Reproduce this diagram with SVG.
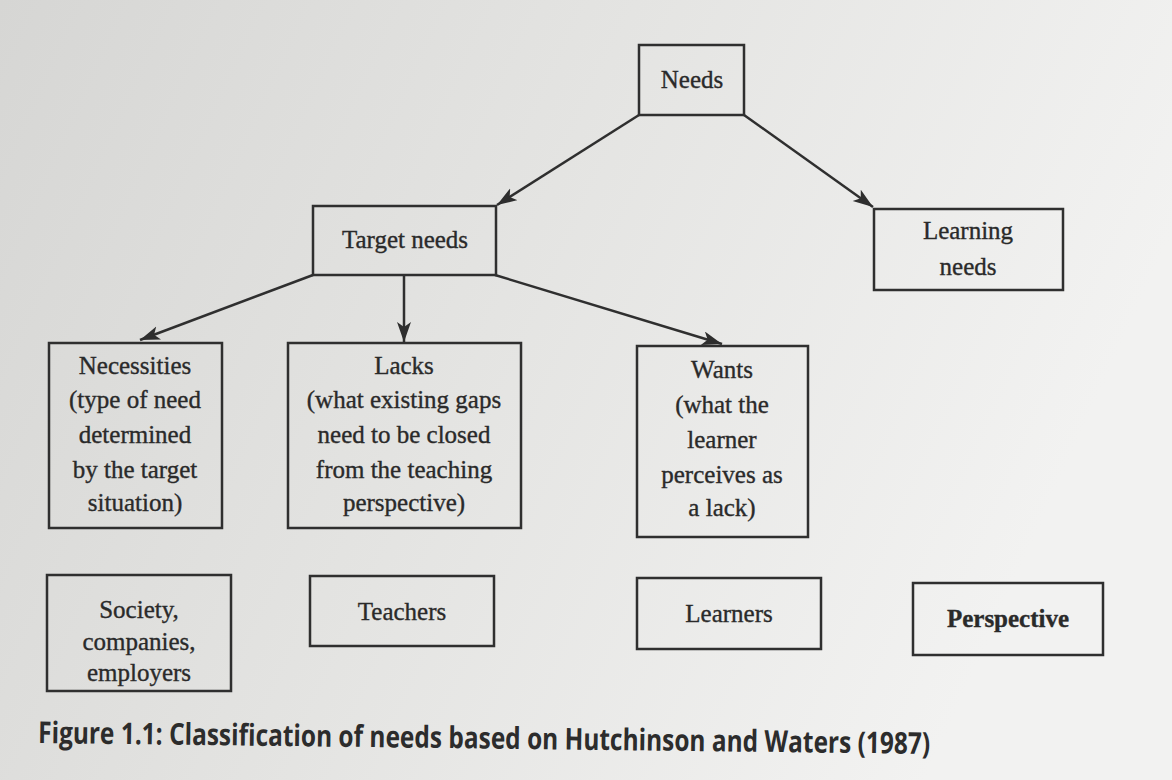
<svg xmlns="http://www.w3.org/2000/svg" width="1172" height="780" viewBox="0 0 1172 780">
  <defs>
    <linearGradient id="paper" x1="0" y1="0" x2="1" y2="0.3">
      <stop offset="0" stop-color="#d6d6d4"/>
      <stop offset="0.5" stop-color="#e4e4e2"/>
      <stop offset="1" stop-color="#f2f2f1"/>
    </linearGradient>
    <marker id="arrow" markerUnits="userSpaceOnUse" markerWidth="22" markerHeight="16" refX="20" refY="7" orient="auto">
      <path d="M0,0 L20,7 L0,14 L5,7 Z" fill="#2e2e2e"/>
    </marker>
  </defs>
  <style>
    .box { fill: none; stroke: #2f2f2f; stroke-width: 2.5; }
    .lbl { font-family: "Liberation Serif", "Times New Roman", serif; font-size: 25px; fill: #2a2a2a; stroke: #2a2a2a; stroke-width: 0.35; text-anchor: middle; }
    .bold { font-weight: bold; }
    .edge { fill: none; stroke: #2f2f2f; stroke-width: 2.5; marker-end: url(#arrow); }
    .caption { font-family: "Open Sans", "Liberation Sans", sans-serif; font-weight: 700; font-size: 30px; fill: #2c2c2c; }
  </style>

  <rect x="0" y="0" width="1172" height="780" fill="url(#paper)"/>

  <!-- connectors -->
  <g id="connectors">
    <line class="edge" x1="639" y1="115" x2="497" y2="205"/>
    <line class="edge" x1="744" y1="115" x2="873" y2="207"/>
    <line class="edge" x1="313" y1="275" x2="140" y2="340"/>
    <line class="edge" x1="404" y1="275" x2="404" y2="342"/>
    <line class="edge" x1="495" y1="275" x2="722" y2="344"/>
  </g>

  <!-- top level -->
  <g id="needs">
    <rect class="box" x="639" y="45" width="105" height="70"/>
    <text class="lbl" x="692" y="88">Needs</text>
  </g>

  <!-- second level -->
  <g id="target-needs">
    <rect class="box" x="313" y="206" width="183" height="69"/>
    <text class="lbl" x="405" y="248">Target needs</text>
  </g>
  <g id="learning-needs">
    <rect class="box" x="874" y="209" width="189" height="81"/>
    <text class="lbl" x="968" y="239">Learning</text>
    <text class="lbl" x="968" y="275">needs</text>
  </g>

  <!-- third level -->
  <g id="necessities">
    <rect class="box" x="49" y="343" width="173" height="185"/>
    <text class="lbl" x="135" y="374">Necessities</text>
    <text class="lbl" x="135" y="408">(type of need</text>
    <text class="lbl" x="135" y="443">determined</text>
    <text class="lbl" x="135" y="478">by the target</text>
    <text class="lbl" x="135" y="511">situation)</text>
  </g>
  <g id="lacks">
    <rect class="box" x="288" y="343" width="233" height="185"/>
    <text class="lbl" x="404" y="374">Lacks</text>
    <text class="lbl" x="404" y="408">(what existing gaps</text>
    <text class="lbl" x="404" y="443">need to be closed</text>
    <text class="lbl" x="404" y="478">from the teaching</text>
    <text class="lbl" x="404" y="511">perspective)</text>
  </g>
  <g id="wants">
    <rect class="box" x="637" y="346" width="171" height="191"/>
    <text class="lbl" x="722" y="378">Wants</text>
    <text class="lbl" x="722" y="413">(what the</text>
    <text class="lbl" x="722" y="448">learner</text>
    <text class="lbl" x="722" y="483">perceives as</text>
    <text class="lbl" x="722" y="516">a lack)</text>
  </g>

  <!-- perspective row -->
  <g id="society">
    <rect class="box" x="47" y="575" width="184" height="116"/>
    <text class="lbl" x="139" y="618">Society,</text>
    <text class="lbl" x="139" y="650">companies,</text>
    <text class="lbl" x="139" y="681">employers</text>
  </g>
  <g id="teachers">
    <rect class="box" x="310" y="576" width="184" height="70"/>
    <text class="lbl" x="402" y="620">Teachers</text>
  </g>
  <g id="learners">
    <rect class="box" x="637" y="578" width="184" height="71"/>
    <text class="lbl" x="729" y="622">Learners</text>
  </g>
  <g id="perspective">
    <rect class="box" x="913" y="583" width="190" height="72"/>
    <text class="lbl bold" x="1008" y="627">Perspective</text>
  </g>

  <!-- figure caption -->
  <text class="caption" x="38" y="743" textLength="892" lengthAdjust="spacingAndGlyphs" transform="rotate(0.7 38 743)">Figure 1.1: Classification of needs based on Hutchinson and Waters (1987)</text>
</svg>
